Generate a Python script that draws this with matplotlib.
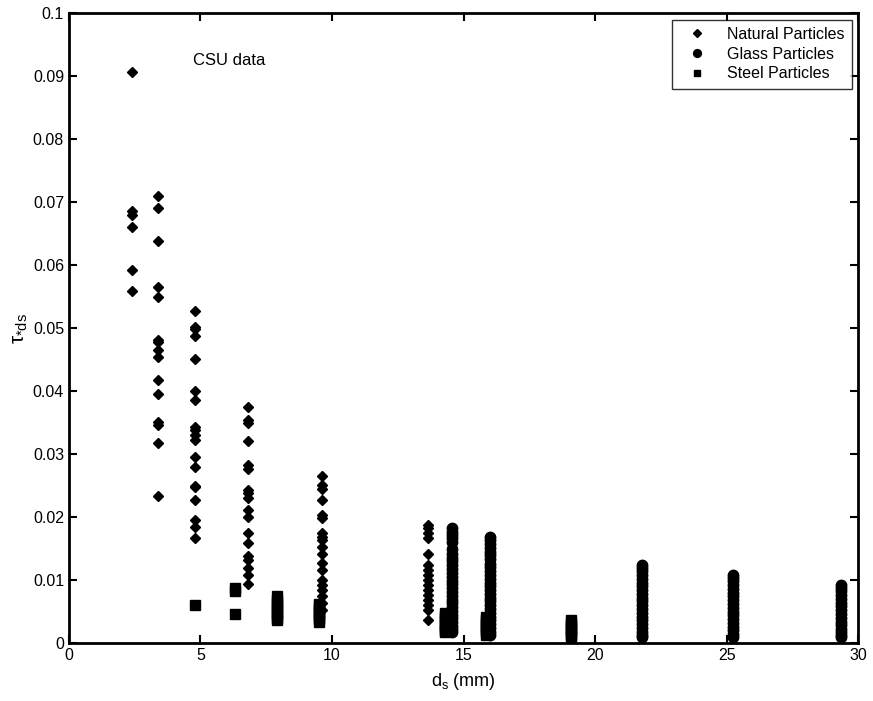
import matplotlib
matplotlib.use("Agg")
import matplotlib.pyplot as plt

plt.rcParams['font.family'] = ['Liberation Sans', 'DejaVu Sans']
plt.rcParams['mathtext.fontset'] = 'custom'
plt.rcParams['mathtext.rm'] = 'Liberation Sans'
plt.rcParams['mathtext.it'] = 'Liberation Sans'

# Natural particles: (grain size, values)
nat_d = [2.4, 3.4, 4.8, 6.8, 9.6, 13.65]
nat_vals = [
    [0.0907, 0.0686, 0.0680, 0.0660, 0.0592, 0.0559],
    [0.0710, 0.0690, 0.0639, 0.0565, 0.0549, 0.0481, 0.0478, 0.0465, 0.0454,
     0.0417, 0.0396, 0.0351, 0.0346, 0.0317, 0.0234],
    [0.0527, 0.0502, 0.0498, 0.0487, 0.0451, 0.0400, 0.0386, 0.0343, 0.0338,
     0.0330, 0.0322, 0.0296, 0.0279, 0.0249, 0.0247, 0.0227, 0.0195, 0.0185, 0.0166],
    [0.0374, 0.0354, 0.0349, 0.0320, 0.0283, 0.0277, 0.0243, 0.0238, 0.0230,
     0.0211, 0.0200, 0.0175, 0.0159, 0.0138, 0.0132, 0.0119, 0.0108, 0.0093],
    [0.0265, 0.0251, 0.0244, 0.0227, 0.0203, 0.0198, 0.0174, 0.0169, 0.0163,
     0.0153, 0.0142, 0.0127, 0.0116, 0.0100, 0.0092, 0.0084, 0.0074, 0.0063, 0.0052],
    [0.0188, 0.0182, 0.0175, 0.0166, 0.0142, 0.0124, 0.0116, 0.0108, 0.0100,
     0.0092, 0.0084, 0.0076, 0.0068, 0.0060, 0.0052, 0.0036],
]

# Glass particles
glass_d = [14.55, 16.0, 21.8, 25.25, 29.35]
glass_vals = [
    [0.0182, 0.0177, 0.0172, 0.0166, 0.0160, 0.0150, 0.0141, 0.0135, 0.0130, 0.0124,
     0.0118, 0.0111, 0.0105, 0.0099, 0.0093, 0.0087, 0.0081, 0.0075, 0.0069, 0.0063,
     0.0057, 0.0051, 0.0045, 0.0039, 0.0033, 0.0027, 0.0022, 0.0018],
    [0.0169, 0.0164, 0.0158, 0.0151, 0.0145, 0.0139, 0.0133, 0.0126, 0.0120, 0.0114,
     0.0108, 0.0102, 0.0096, 0.0090, 0.0084, 0.0078, 0.0072, 0.0066, 0.0060, 0.0054,
     0.0048, 0.0042, 0.0036, 0.0030, 0.0024, 0.0018, 0.0013],
    [0.0124, 0.0119, 0.0114, 0.0108, 0.0102, 0.0096, 0.0090, 0.0084, 0.0078, 0.0072,
     0.0066, 0.0060, 0.0054, 0.0048, 0.0042, 0.0036, 0.0030, 0.0024, 0.0018, 0.0013, 0.0010],
    [0.0108, 0.0103, 0.0098, 0.0092, 0.0086, 0.0080, 0.0074, 0.0068, 0.0062, 0.0056,
     0.0050, 0.0044, 0.0038, 0.0032, 0.0026, 0.0020, 0.0015, 0.0010],
    [0.0092, 0.0087, 0.0082, 0.0076, 0.0070, 0.0064, 0.0058, 0.0052, 0.0046, 0.0040,
     0.0034, 0.0028, 0.0022, 0.0017, 0.0012, 0.0010],
]

# Steel particles
steel_d = [4.8, 6.3, 7.9, 9.5, 14.3, 15.85, 19.1]
steel_vals = [
    [0.0060],
    [0.0088, 0.0082, 0.0046],
    [0.0074, 0.0069, 0.0064, 0.0059, 0.0054, 0.0049, 0.0044, 0.0039, 0.0036],
    [0.0062, 0.0058, 0.0054, 0.0050, 0.0046, 0.0042, 0.0038, 0.0034],
    [0.0047, 0.0043, 0.0039, 0.0035, 0.0031, 0.0027, 0.0023, 0.0019, 0.0017],
    [0.0041, 0.0037, 0.0033, 0.0029, 0.0025, 0.0021, 0.0017, 0.0013],
    [0.0036, 0.0032, 0.0028, 0.0024, 0.0020, 0.0016, 0.0012, 0.0009],
]

fig = plt.figure(figsize=(8.73, 7.01), dpi=100)
ax = fig.add_axes([0.079, 0.0827, 0.904, 0.8985])

def flatten(ds, vals):
    xs, ys = [], []
    for d, v in zip(ds, vals):
        xs += [d] * len(v)
        ys += v
    return xs, ys

x, y = flatten(nat_d, nat_vals)
ax.plot(x, y, linestyle='none', marker='D', markersize=5.2, color='black',
        label='Natural Particles')
x, y = flatten(glass_d, glass_vals)
ax.plot(x, y, linestyle='none', marker='o', markersize=7.5, color='black',
        label='Glass Particles')
x, y = flatten(steel_d, steel_vals)
ax.plot(x, y, linestyle='none', marker='s', markersize=6.5, color='black',
        label='Steel Particles')

ax.set_xlim(0, 30)
ax.set_ylim(0, 0.1)
ax.set_xticks([0, 5, 10, 15, 20, 25, 30])
ax.set_yticks([i / 100 for i in range(11)])
ax.set_yticklabels(['0', '0.01', '0.02', '0.03', '0.04', '0.05', '0.06',
                    '0.07', '0.08', '0.09', '0.1'])
ax.tick_params(direction='in', top=True, right=True, labelsize=11.5,
               length=6, width=1.5)
for s in ax.spines.values():
    s.set_linewidth(2)

ax.set_xlabel('d$_\\mathrm{s}$ (mm)', fontsize=13, labelpad=6)
ax.set_ylabel('$\\tau_{*\\mathrm{ds}}$', fontsize=15, labelpad=2)

ax.text(4.7, 0.0918, 'CSU data', fontsize=12)

leg = ax.legend(loc='upper right', fontsize=11.5, frameon=True, fancybox=False,
                edgecolor='black', borderaxespad=0.4, handletextpad=0.8,
                labelspacing=0.3, markerscale=0.75, borderpad=0.45,
                handlelength=2.2)
leg.get_frame().set_linewidth(1)

fig.savefig('out.png', dpi=100)
